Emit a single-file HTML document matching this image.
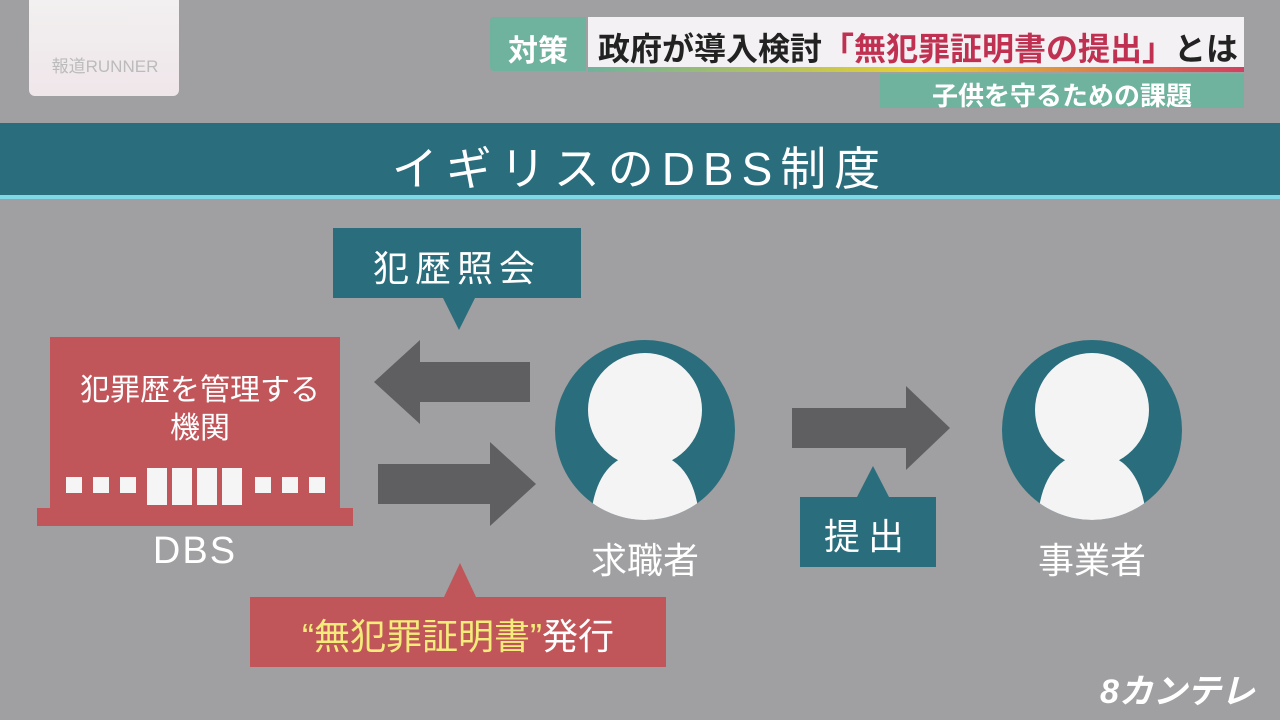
<!DOCTYPE html>
<html><head><meta charset="utf-8"><style>
body{margin:0;width:1280px;height:720px;background:#a09fa1;position:relative;overflow:hidden;font-family:"Liberation Sans","Noto Sans CJK JP",sans-serif}
.a{position:absolute}
.t{color:#fff;text-align:center}
</style></head><body>
<div class="a" style="left:29px;top:0;width:150px;height:96px;background:linear-gradient(#f2f0f0,#efe6ea);border-radius:0 0 6px 6px"></div>
<div class="a" style="left:40px;top:52px;width:130px;font-size:17px;color:#bbb;text-align:center">報道RUNNER</div>
<div class="a" style="left:490px;top:17px;width:96px;height:54px;background:#6fb29d;border-radius:4px 0 0 4px"></div>
<div class="a t" style="left:490px;top:26px;width:96px;font-size:30px;font-weight:bold">対策</div>
<div class="a" style="left:588px;top:17px;width:656px;height:50px;background:#f3f1f3"></div>
<div class="a" style="left:588px;top:67px;width:656px;height:5px;background:linear-gradient(90deg,#6fb29d,#e8d030,#d04060)"></div>
<div class="a" style="left:598px;top:24px;font-size:32px;font-weight:bold;color:#222;white-space:nowrap">政府が導入検討<span style="color:#c03050">「無犯罪証明書の提出」</span>とは</div>
<div class="a" style="left:880px;top:74px;width:364px;height:34px;background:#6fb29d"></div>
<div class="a t" style="left:880px;top:76px;width:364px;font-size:26px;font-weight:bold">子供を守るための課題</div>
<div class="a" style="left:0;top:123px;width:1280px;height:72px;background:#2a6d7c"></div>
<div class="a" style="left:0;top:195px;width:1280px;height:4px;background:#7fd8e6"></div>
<div class="a t" style="left:0;top:133px;width:1280px;font-size:46px;letter-spacing:8px">イギリスのDBS制度</div>
<div class="a" style="left:333px;top:228px;width:248px;height:70px;background:#2a6d7c"></div>
<div class="a" style="left:443px;top:298px;width:0;height:0;border-left:16px solid transparent;border-right:16px solid transparent;border-top:32px solid #2a6d7c"></div>
<div class="a t" style="left:333px;top:240px;width:248px;font-size:36px;letter-spacing:6px">犯歴照会</div>
<div class="a" style="left:50px;top:337px;width:290px;height:175px;background:#c0555a"></div>
<div class="a" style="left:37px;top:508px;width:316px;height:18px;background:#c0555a"></div>
<div class="a t" style="left:50px;top:372px;width:300px;font-size:30px;line-height:38px">犯罪歴を管理する<br>機関</div>
<svg class="a" style="left:0;top:0" width="1280" height="720">
<g fill="#f5f5f5">
<rect x="66" y="477" width="16" height="16"/><rect x="93" y="477" width="16" height="16"/><rect x="120" y="477" width="16" height="16"/>
<rect x="147" y="468" width="20" height="37"/><rect x="172" y="468" width="20" height="37"/><rect x="197" y="468" width="20" height="37"/><rect x="222" y="468" width="20" height="37"/>
<rect x="255" y="477" width="16" height="16"/><rect x="282" y="477" width="16" height="16"/><rect x="309" y="477" width="16" height="16"/>
</g>
<g fill="#5f5e61">
<polygon points="530,362 420,362 420,340 374,382 420,424 420,402 530,402"/>
<polygon points="378,464 490,464 490,442 536,484 490,526 490,504 378,504"/>
<polygon points="792,408 906,408 906,386 950,428 906,470 906,448 792,448"/>
</g>
<defs><clipPath id="c1"><circle cx="645" cy="430" r="90"/></clipPath><clipPath id="c2"><circle cx="1092" cy="430" r="90"/></clipPath></defs>
<circle cx="645" cy="430" r="90" fill="#2a6d7c"/>
<g clip-path="url(#c1)" fill="#f4f4f4">
<circle cx="645" cy="410" r="57"/>
<path d="M590,530 Q592,455 645,452 Q698,455 700,530Z"/>
</g>
<circle cx="1092" cy="430" r="90" fill="#2a6d7c"/>
<g clip-path="url(#c2)" fill="#f4f4f4">
<circle cx="1092" cy="410" r="57"/>
<path d="M1037,530 Q1039,455 1092,452 Q1145,455 1147,530Z"/>
</g>
</svg>
<div class="a t" style="left:100px;top:530px;width:190px;font-size:38px;letter-spacing:2px">DBS</div>
<div class="a t" style="left:545px;top:532px;width:200px;font-size:36px">求職者</div>
<div class="a t" style="left:992px;top:532px;width:200px;font-size:36px">事業者</div>
<div class="a" style="left:857px;top:466px;width:0;height:0;border-left:16px solid transparent;border-right:16px solid transparent;border-bottom:31px solid #2a6d7c"></div>
<div class="a" style="left:800px;top:497px;width:136px;height:70px;background:#2a6d7c"></div>
<div class="a t" style="left:800px;top:508px;width:136px;font-size:36px;letter-spacing:8px">提出</div>
<div class="a" style="left:444px;top:563px;width:0;height:0;border-left:16px solid transparent;border-right:16px solid transparent;border-bottom:34px solid #c0555a"></div>
<div class="a" style="left:250px;top:597px;width:416px;height:70px;background:#c0555a"></div>
<div class="a" style="left:250px;top:608px;width:416px;text-align:center;font-size:36px;color:#f3ec7a;white-space:nowrap">“無犯罪証明書”<span style="color:#fff">発行</span></div>
<div class="a" style="left:1100px;top:664px;font-size:34px;color:#fff;font-weight:bold;font-style:italic">8カンテレ</div>
</body></html>
